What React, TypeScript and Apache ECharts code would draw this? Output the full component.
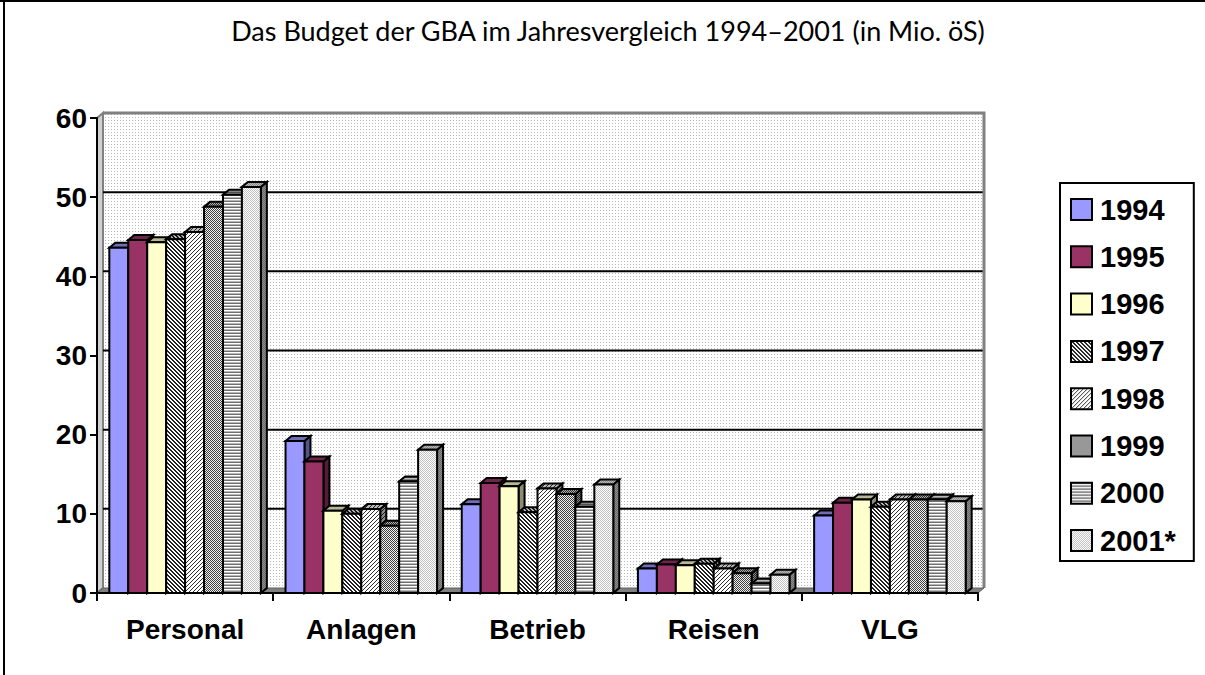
import React, { useEffect, useRef } from 'react';
import * as echarts from 'echarts';

const categories = ['Personal', 'Anlagen', 'Betrieb', 'Reisen', 'VLG'];
const years = ['1994', '1995', '1996', '1997', '1998', '1999', '2000', '2001*'];
const v1994 = [43.6, 19.2, 11.2, 3.1, 9.8];
const v1995 = [44.6, 16.6, 13.9, 3.6, 11.4];
const v1996 = [44.3, 10.4, 13.5, 3.5, 11.8];
const v1997 = [44.7, 10.0, 10.2, 3.7, 10.9];
const v1998 = [45.6, 10.6, 13.2, 3.1, 11.8];
const v1999 = [48.8, 8.5, 12.5, 2.5, 11.8];
const v2000 = [50.3, 14.1, 10.9, 1.2, 11.8];
const v2001 = [51.3, 18.1, 13.7, 2.3, 11.6];
const seriesValues = [v1994, v1995, v1996, v1997, v1998, v1999, v2000, v2001];
const yTicks = [0, 10, 20, 30, 40, 50, 60];
const title = 'Das Budget der GBA im Jahresvergleich 1994–2001 (in Mio. öS)';

type Tile = { rows: string[]; colors: Record<string, string> };

const tiles: (Tile | string)[] = [
  '#9999FF',
  '#993366',
  '#FFFFCC',
  { rows: ['DDLL', 'LDDL', 'LLDD', 'DLLD'], colors: { D: '#202020', L: '#ffffff' } },
  { rows: ['DLLL', 'LLLD', 'LLDL', 'LDLL'], colors: { D: '#303030', L: '#ffffff' } },
  { rows: ['DL', 'LD'], colors: { D: '#404040', L: '#f0f0f0' } },
  { rows: ['DD', 'LL', 'MM'], colors: { D: '#707070', L: '#ffffff', M: '#b8b8b8' } },
  { rows: ['ML', 'LM'], colors: { M: '#c0c0c0', L: '#ffffff' } },
];
const wallTile: Tile = { rows: ['MLL', 'LLL', 'LLL'], colors: { M: '#b8b8b8', L: '#ffffff' } };

function shadeHex(hex: string, f: number) {
  const n = parseInt(hex.slice(1), 16);
  const r = Math.round(((n >> 16) & 255) * f);
  const g = Math.round(((n >> 8) & 255) * f);
  const b = Math.round((n & 255) * f);
  return 'rgb(' + r + ',' + g + ',' + b + ')';
}

function makeFill(t: Tile | string, f: number): any {
  if (typeof t === 'string') return shadeHex(t, f);
  const h = t.rows.length;
  const w = t.rows[0].length;
  const c = document.createElement('canvas');
  c.width = w;
  c.height = h;
  const ctx = c.getContext('2d')!;
  for (let y = 0; y < h; y++) {
    for (let x = 0; x < w; x++) {
      ctx.fillStyle = shadeHex(t.colors[t.rows[y][x]], f);
      ctx.fillRect(x, y, 1, 1);
    }
  }
  return { image: c.toDataURL(), repeat: 'repeat', imageWidth: w, imageHeight: h };
}

const DX = 6;
const DY = 5;
const FONT = 'Liberation Sans, Arial, sans-serif';

export default function App() {
  const ref = useRef<HTMLDivElement>(null);
  useEffect(() => {
    if (!ref.current) return;
    const chart = echarts.init(ref.current, undefined, { renderer: 'svg' });
    const wallFill = makeFill(wallTile, 1);

    const wallSeries: any = {
      type: 'custom',
      name: '__wall',
      z: 1,
      silent: true,
      data: [[0, 0]],
      renderItem: (params: any, api: any) => {
        const cs = params.coordSys;
        const yB = api.coord([0, 0])[1];
        const yT = api.coord([0, yTicks[yTicks.length - 1]])[1];
        const children: any[] = [];
        children.push({
          type: 'rect',
          shape: { x: cs.x + DX, y: yT - DY, width: cs.width, height: yB - yT },
          style: { fill: wallFill },
        });
        children.push({
          type: 'polygon',
          shape: { points: [[cs.x, yT], [cs.x + DX, yT - DY], [cs.x + DX, yB - DY], [cs.x, yB]] },
          style: { fill: '#d0d0d0', stroke: '#808080', lineWidth: 2 },
        });
        yTicks.slice(1, yTicks.length - 1).forEach((t) => {
          const y = api.coord([0, t])[1] - DY;
          children.push({
            type: 'line',
            shape: { x1: cs.x + DX, y1: y, x2: cs.x + cs.width + DX, y2: y },
            style: { stroke: '#000', lineWidth: 2 },
          });
        });
        children.push({
          type: 'polyline',
          shape: { points: [[cs.x + DX, yT - DY], [cs.x + cs.width + DX, yT - DY], [cs.x + cs.width + DX, yB - DY]] },
          style: { stroke: '#808080', lineWidth: 3, fill: 'none' },
        });
        children.push({
          type: 'polygon',
          shape: { points: [[cs.x, yB], [cs.x + DX, yB - DY], [cs.x + cs.width + DX, yB - DY], [cs.x + cs.width, yB]] },
          style: { fill: '#808080', stroke: '#606060', lineWidth: 1 },
        });
        return { type: 'group', children };
      },
    };

    const barSeries = seriesValues.map((vals, s) => {
      const face = makeFill(tiles[s], 1);
      const topc = makeFill(tiles[s], 0.72);
      const side = makeFill(tiles[s], 0.55);
      return {
        type: 'custom',
        name: years[s],
        z: 2,
        itemStyle: { color: face, borderColor: '#000', borderWidth: 2 },
        data: vals.map((v, i) => [i, v]),
        renderItem: (params: any, api: any) => {
          const ci = api.value(0);
          const v = api.value(1);
          const base = api.coord([ci, 0]);
          const top = api.coord([ci, v]);
          const cw = api.size([1, 0])[0];
          const bw = (cw * 0.86) / seriesValues.length;
          const x0 = base[0] - (seriesValues.length / 2) * bw + s * bw;
          const yT = top[1];
          const yB = base[1];
          return {
            type: 'group',
            children: [
              {
                type: 'polygon',
                shape: { points: [[x0 + bw, yT], [x0 + bw + DX, yT - DY], [x0 + bw + DX, yB - DY], [x0 + bw, yB]] },
                style: { fill: side, stroke: '#000', lineWidth: 2 },
              },
              {
                type: 'polygon',
                shape: { points: [[x0, yT], [x0 + DX, yT - DY], [x0 + bw + DX, yT - DY], [x0 + bw, yT]] },
                style: { fill: topc, stroke: '#000', lineWidth: 2 },
              },
              {
                type: 'rect',
                shape: { x: x0, y: yT, width: bw, height: yB - yT },
                style: { fill: face, stroke: '#000', lineWidth: 2 },
              },
            ],
          };
        },
      };
    });

    chart.setOption({
      animation: false,
      backgroundColor: '#ffffff',
      grid: { left: 97, right: 227, top: 118, bottom: 82, containLabel: false },
      xAxis: {
        type: 'category',
        data: categories,
        z: 5,
        axisLine: { lineStyle: { color: '#000', width: 2 } },
        axisTick: { show: true, length: 8, lineStyle: { color: '#000', width: 2 } },
        axisLabel: { color: '#000', fontFamily: FONT, fontWeight: 'bold', fontSize: 28, margin: 22 },
      },
      yAxis: {
        type: 'value',
        min: 0,
        max: 60,
        interval: 10,
        z: 5,
        axisLine: { show: true, lineStyle: { color: '#000', width: 2 } },
        axisTick: { show: true, length: 7, lineStyle: { color: '#000', width: 2 } },
        axisLabel: { color: '#000', fontFamily: FONT, fontWeight: 'bold', fontSize: 28, margin: 10 },
        splitLine: { show: false },
      },
      legend: {
        orient: 'vertical',
        left: 1060,
        top: 183,
        padding: [12, 18, 6, 10],
        borderColor: '#000',
        borderWidth: 2,
        itemWidth: 21,
        itemHeight: 21,
        itemGap: 18.3,
        icon: 'rect',
        data: years,
        selectedMode: false,
        itemStyle: { borderColor: '#000', borderWidth: 2 },
        textStyle: { color: '#000', fontFamily: FONT, fontWeight: 'bold', fontSize: 29, padding: [0, 0, 0, 3] },
      },
      graphic: [
        {
          type: 'text',
          x: 608,
          y: 30,
          style: { text: title, fontFamily: 'Lato, sans-serif', fontSize: 27, fill: '#000', align: 'center', verticalAlign: 'middle' },
        },
        { type: 'line', shape: { x1: 0, y1: 1, x2: 1205, y2: 1 }, style: { stroke: '#000', lineWidth: 2 } },
        { type: 'line', shape: { x1: 4, y1: 0, x2: 4, y2: 675 }, style: { stroke: '#000', lineWidth: 2 } },
      ],
      series: [wallSeries, ...barSeries],
    });
    return () => chart.dispose();
  }, []);
  return <div ref={ref} style={{ position: 'fixed', left: 0, top: 0, width: 1205, height: 675 }} />;
}
